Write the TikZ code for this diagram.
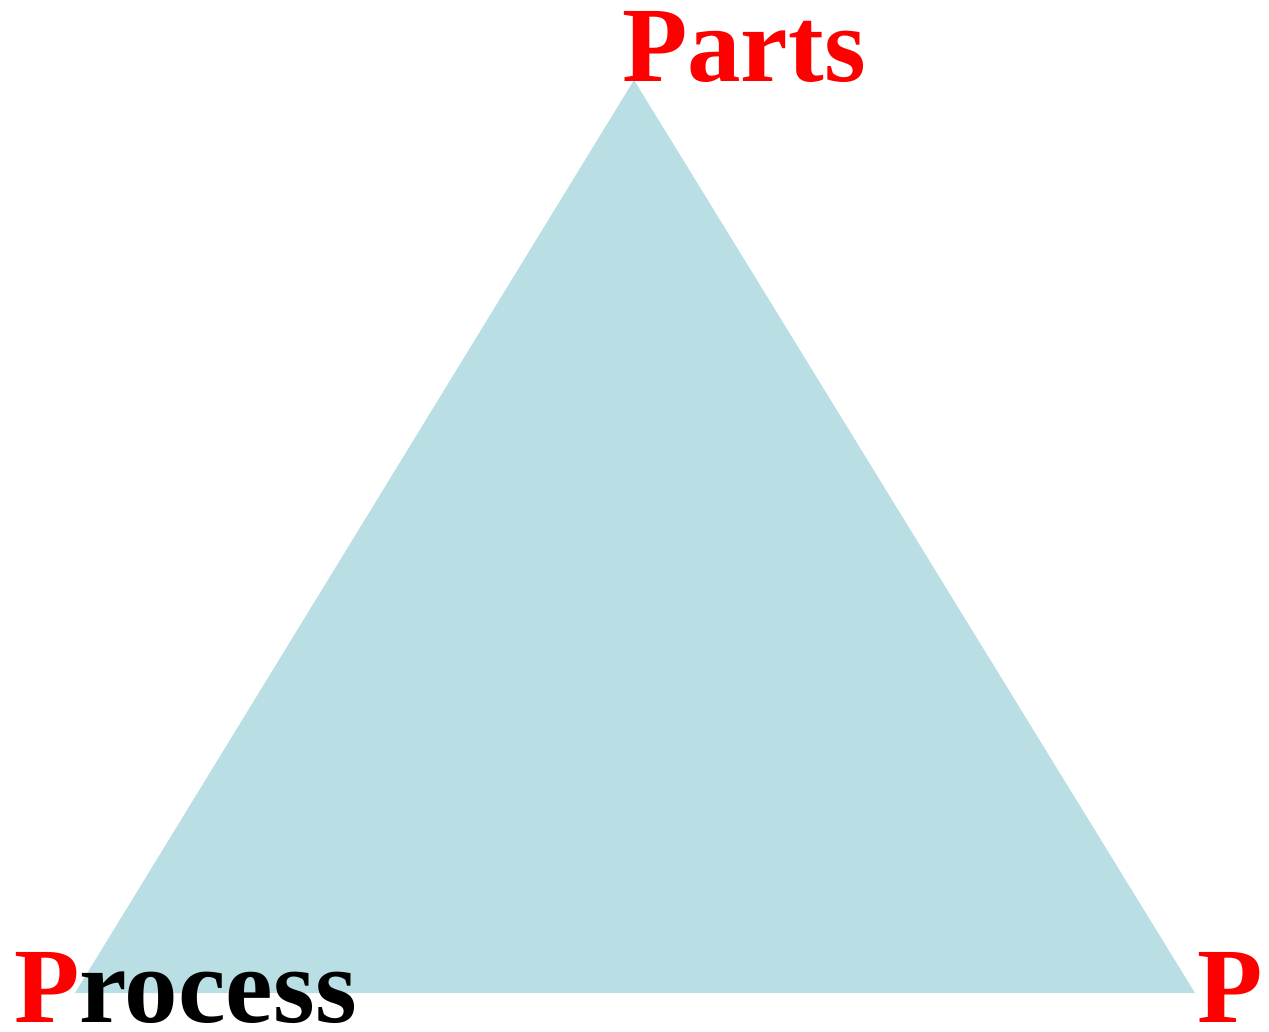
\documentclass[tikz,border=0pt]{standalone}
\usepackage{fontspec}
\setmainfont{Liberation Serif}
\definecolor{trifill}{RGB}{185,223,228}
\definecolor{pred}{RGB}{255,0,0}
\begin{document}
\begin{tikzpicture}[x=1pt,y=-1pt,
  lbl/.style={inner sep=0pt,outer sep=0pt,anchor=base west,font=\fontsize{107}{112}\selectfont\bfseries}]
\useasboundingbox (0,0) rectangle (1269,1031);
\coordinate (top) at (634,80);
\coordinate (left) at (75,993);
\coordinate (right) at (1195,993);
\fill[trifill] (top) -- (left) -- (right) -- cycle;
\node[lbl,text=pred] (parts) at (622,81) {Parts};
\node[lbl] (process) at (14,1022) {\textcolor{pred}{P}rocess};
\node[lbl,text=pred] (p3) at (1197,1022) {P};
\end{tikzpicture}
\end{document}
